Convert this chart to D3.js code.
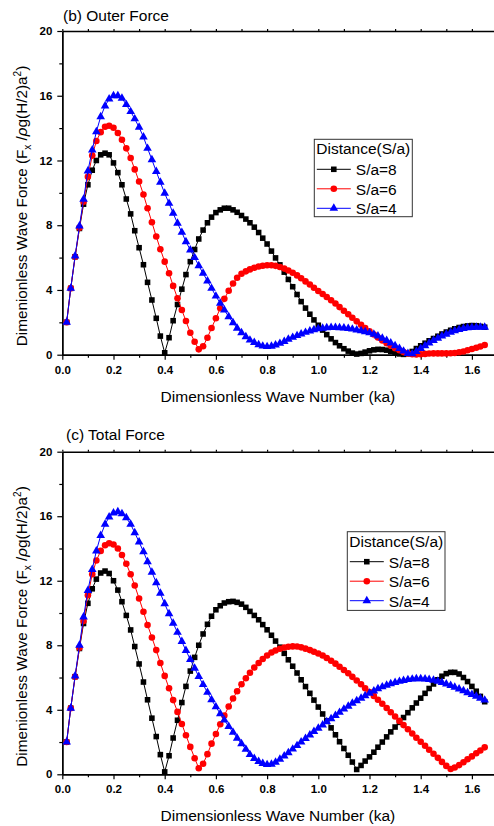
<!DOCTYPE html>
<html>
<head>
<meta charset="utf-8">
<script src="https://cdn.jsdelivr.net/npm/d3@7"></script>
<style>
  body { margin: 0; background: #fff; }
  svg { display: block; font-family: "Liberation Sans", Arial, sans-serif; }
</style>
</head>
<body>
<div id="chart"></div>
<script>
// dimensionless wave number ka (x grid of the computed points)
const ka = [0.017, 0.033, 0.05, 0.067, 0.083, 0.1, 0.117, 0.133, 0.15, 0.167,
  0.183, 0.2, 0.217, 0.233, 0.25, 0.267, 0.283, 0.3, 0.317, 0.333,
  0.35, 0.367, 0.383, 0.4, 0.417, 0.433, 0.45, 0.467, 0.483, 0.5,
  0.517, 0.533, 0.55, 0.567, 0.583, 0.6, 0.617, 0.633, 0.65, 0.667,
  0.683, 0.7, 0.717, 0.733, 0.75, 0.767, 0.783, 0.8, 0.817, 0.833,
  0.85, 0.867, 0.883, 0.9, 0.917, 0.933, 0.95, 0.967, 0.983, 1.0,
  1.017, 1.033, 1.05, 1.067, 1.083, 1.1, 1.117, 1.133, 1.15, 1.167,
  1.183, 1.2, 1.217, 1.233, 1.25, 1.267, 1.283, 1.3, 1.317, 1.333,
  1.35, 1.367, 1.383, 1.4, 1.417, 1.433, 1.45, 1.467, 1.483, 1.5,
  1.517, 1.533, 1.55, 1.567, 1.583, 1.6, 1.617, 1.633, 1.65];

// (b) Outer Force
const outerS8 = [2.0, 4.1, 6.05, 7.8, 9.3, 10.5, 11.4, 12.0, 12.35, 12.45,
  12.35, 11.85, 11.25, 10.5, 9.62, 8.7, 7.66, 6.61, 5.56, 4.47,
  3.38, 2.25, 1.15, 0.12, 1.05, 2.1, 3.1, 4.05, 4.95, 5.75,
  6.5, 7.15, 7.7, 8.15, 8.5, 8.78, 8.95, 9.05, 9.05, 8.95,
  8.8, 8.6, 8.38, 8.15, 7.88, 7.55, 7.2, 6.84, 6.4, 5.98,
  5.55, 5.1, 4.65, 4.2, 3.72, 3.28, 2.88, 2.5, 2.15, 1.82,
  1.52, 1.24, 0.98, 0.75, 0.55, 0.37, 0.22, 0.1, 0.04, 0.08,
  0.16, 0.24, 0.3, 0.33, 0.32, 0.28, 0.2, 0.12, 0.05, 0.02,
  0.06, 0.2, 0.38, 0.55, 0.71, 0.86, 1.0, 1.14, 1.28, 1.4,
  1.51, 1.6, 1.68, 1.74, 1.78, 1.8, 1.79, 1.75, 1.7];
const outerS6 = [2.0, 4.1, 6.05, 7.85, 9.45, 11.0, 12.3, 13.2, 13.75, 14.08,
  14.15, 14.02, 13.7, 13.28, 12.75, 12.15, 11.45, 10.7, 9.9, 9.05,
  8.18, 7.3, 6.52, 5.75, 5.03, 4.25, 3.49, 2.76, 2.08, 1.36,
  0.8, 0.33, 0.52, 1.05, 1.65, 2.25, 2.87, 3.45, 3.95, 4.4,
  4.75, 5.0, 5.15, 5.27, 5.37, 5.45, 5.5, 5.53, 5.53, 5.49,
  5.42, 5.32, 5.2, 5.06, 4.9, 4.72, 4.53, 4.34, 4.14, 3.94,
  3.75, 3.56, 3.36, 3.16, 2.94, 2.72, 2.5, 2.28, 2.06, 1.85,
  1.64, 1.44, 1.25, 1.06, 0.88, 0.71, 0.55, 0.4, 0.27, 0.16,
  0.08, 0.03, 0.02, 0.03, 0.05, 0.07, 0.08, 0.08, 0.08, 0.08,
  0.09, 0.11, 0.15, 0.2, 0.27, 0.35, 0.43, 0.51, 0.6];
const outerS4 = [2.0, 4.1, 6.1, 7.95, 9.6, 11.35, 12.65, 13.78, 14.7, 15.37,
  15.8, 16.0, 16.0, 15.85, 15.45, 15.02, 14.57, 14.05, 13.45, 12.75,
  12.05, 11.32, 10.65, 9.97, 9.35, 8.74, 8.12, 7.56, 6.98, 6.47,
  6.0, 5.5, 5.03, 4.55, 4.1, 3.62, 3.18, 2.76, 2.35, 1.98,
  1.63, 1.36, 1.11, 0.9, 0.75, 0.62, 0.53, 0.5, 0.52, 0.6,
  0.7, 0.82, 0.95, 1.07, 1.18, 1.28, 1.38, 1.47, 1.54, 1.6,
  1.64, 1.67, 1.68, 1.68, 1.67, 1.65, 1.62, 1.58, 1.53, 1.48,
  1.42, 1.35, 1.26, 1.15, 1.02, 0.88, 0.72, 0.55, 0.38, 0.22,
  0.08, 0.05, 0.2, 0.38, 0.55, 0.72, 0.88, 1.02, 1.15, 1.27,
  1.38, 1.48, 1.56, 1.62, 1.66, 1.68, 1.7, 1.7, 1.7];

// (c) Total Force
const totalS8 = [2.0, 4.1, 6.05, 7.8, 9.35, 10.6, 11.5, 12.1, 12.48, 12.6,
  12.45, 12.0, 11.42, 10.7, 9.85, 8.95, 7.92, 6.84, 5.72, 4.62,
  3.48, 2.34, 1.22, 0.15, 1.15, 2.25, 3.35, 4.45, 5.45, 6.4,
  7.25, 8.0, 8.7, 9.3, 9.8, 10.2, 10.45, 10.62, 10.7, 10.72,
  10.66, 10.55, 10.35, 10.1, 9.85, 9.58, 9.28, 8.96, 8.62, 8.26,
  7.88, 7.5, 7.1, 6.7, 6.28, 5.86, 5.44, 5.02, 4.6, 4.17,
  3.74, 3.31, 2.88, 2.45, 2.02, 1.6, 1.18, 0.76, 0.3, 0.55,
  0.82, 1.08, 1.37, 1.68, 2.0, 2.32, 2.63, 2.93, 3.22, 3.52,
  3.82, 4.12, 4.42, 4.72, 5.02, 5.32, 5.6, 5.86, 6.08, 6.24,
  6.32, 6.32, 6.22, 6.0, 5.75, 5.45, 5.15, 4.83, 4.5];
const totalS6 = [2.0, 4.1, 6.05, 7.85, 9.5, 11.1, 12.4, 13.25, 13.85, 14.2,
  14.32, 14.25, 14.0, 13.6, 13.05, 12.4, 11.7, 10.9, 10.08, 9.26,
  8.48, 7.7, 6.9, 6.1, 5.33, 4.6, 3.87, 3.12, 2.42, 1.7,
  1.0, 0.38, 0.65, 1.25, 1.9, 2.5, 3.1, 3.65, 4.2, 4.7,
  5.15, 5.58, 5.95, 6.3, 6.62, 6.9, 7.15, 7.37, 7.55, 7.68,
  7.78, 7.86, 7.91, 7.93, 7.92, 7.87, 7.79, 7.7, 7.6, 7.49,
  7.36, 7.21, 7.04, 6.86, 6.67, 6.47, 6.26, 6.04, 5.81, 5.58,
  5.34, 5.1, 4.86, 4.62, 4.37, 4.11, 3.85, 3.58, 3.31, 3.05,
  2.79, 2.53, 2.27, 2.02, 1.77, 1.52, 1.27, 1.02, 0.77, 0.52,
  0.33, 0.42, 0.57, 0.75, 0.93, 1.11, 1.3, 1.48, 1.67];
const totalS4 = [2.0, 4.1, 6.1, 8.0, 9.75, 11.4, 12.7, 13.85, 14.8, 15.5,
  15.95, 16.2, 16.28, 16.15, 15.9, 15.5, 14.98, 14.4, 13.8, 13.18,
  12.53, 11.88, 11.22, 10.57, 9.95, 9.37, 8.8, 8.23, 7.67, 7.12,
  6.58, 6.06, 5.56, 5.08, 4.62, 4.18, 3.76, 3.36, 2.97, 2.6,
  2.24, 1.89, 1.55, 1.22, 0.98, 0.8, 0.67, 0.6, 0.62, 0.75,
  0.93, 1.13, 1.34, 1.56, 1.78, 2.0, 2.22, 2.44, 2.65, 2.86,
  3.06, 3.26, 3.45, 3.64, 3.84, 4.04, 4.22, 4.4, 4.56, 4.72,
  4.87, 5.02, 5.16, 5.3, 5.42, 5.52, 5.61, 5.69, 5.76, 5.82,
  5.87, 5.9, 5.92, 5.92, 5.91, 5.88, 5.83, 5.77, 5.69, 5.6,
  5.5, 5.4, 5.29, 5.18, 5.06, 4.95, 4.84, 4.72, 4.6];

const seriesNames = ["S/a=8", "S/a=6", "S/a=4"];
const legendTitle = "Distance(S/a)";
const xMajor = [0, 0.2, 0.4, 0.6, 0.8, 1.0, 1.2, 1.4, 1.6];
const xMinor = [0.1, 0.3, 0.5, 0.7, 0.9, 1.1, 1.3, 1.5, 1.7];
const yMajor = [0, 4, 8, 12, 16, 20];
const yMinor = [2, 6, 10, 14, 18];

const colors = ["#000000", "#ff0000", "#0000ff"];
const shapes = [d3.symbolSquare, d3.symbolCircle, d3.symbolTriangle];
const shapeSize = [31, 34, 32];

const width = 494, height = 826;
const left = 62.3, right = 497.5;

const svg = d3.select("#chart").append("svg")
  .attr("width", width)
  .attr("height", height)
  .style("background", "#fff");

const x = d3.scaleLinear().domain([0, 1.7]).range([left, right]);

function drawPanel(cfg) {
  const y = d3.scaleLinear().domain([0, 20]).range([cfg.bottom, cfg.top]);
  const g = svg.append("g");

  // panel title
  g.append("text")
    .attr("x", cfg.titleX)
    .attr("y", cfg.titleY)
    .style("font-size", "15.5px")
    .text(cfg.title);

  // axes
  const styleAxis = (sel) => {
    sel.select(".domain").attr("stroke", "#000").attr("stroke-width", 1.4);
    sel.selectAll(".tick line").attr("stroke", "#000").attr("stroke-width", 1.2);
    sel.selectAll("text").attr("font-family", "Liberation Sans, Arial, sans-serif")
      .attr("font-size", 11.5).attr("font-weight", "bold").attr("fill", "#000");
  };

  g.append("g")
    .attr("transform", `translate(0,${cfg.bottom})`)
    .call(d3.axisBottom(x).tickValues(xMinor).tickSize(3).tickSizeOuter(0).tickFormat(""))
    .call(styleAxis);
  g.append("g")
    .attr("transform", `translate(0,${cfg.bottom})`)
    .call(d3.axisBottom(x).tickValues(xMajor).tickSize(5).tickPadding(6).tickSizeOuter(0)
      .tickFormat(d3.format(".1f")))
    .call(styleAxis);

  g.append("g")
    .attr("transform", `translate(0,${cfg.top})`)
    .call(d3.axisTop(x).tickValues(xMajor.concat(xMinor)).tickSize(2).tickSizeOuter(0).tickFormat(""))
    .call(styleAxis);

  g.append("g")
    .attr("transform", `translate(${left},0)`)
    .call(d3.axisLeft(y).tickValues(yMinor).tickSize(3).tickSizeOuter(0).tickFormat(""))
    .call(styleAxis);
  g.append("g")
    .attr("transform", `translate(${left},0)`)
    .call(d3.axisLeft(y).tickValues(yMajor).tickSize(5).tickPadding(5).tickSizeOuter(0))
    .call(styleAxis);

  // axis titles
  g.append("text")
    .attr("x", (left + right) / 2 - 2)
    .attr("y", cfg.bottom + 47)
    .attr("text-anchor", "middle")
    .style("font-size", "15.5px")
    .text("Dimensionless Wave Number (ka)");

  const yt = g.append("text")
    .attr("transform", `translate(26.5,${cfg.yTitleMid}) rotate(-90)`)
    .attr("text-anchor", "middle")
    .style("font-size", "15.3px");
  yt.append("tspan").text("Dimenionless Wave Force (F");
  yt.append("tspan").attr("dy", 4).style("font-size", "10px").text("x");
  yt.append("tspan").attr("dy", -4).text(" /");
  yt.append("tspan").style("font-style", "italic").text("\u03c1");
  yt.append("tspan").text("g(H/2)a");
  yt.append("tspan").attr("dy", -6).style("font-size", "10px").text("2");
  yt.append("tspan").attr("dy", 6).text(")");

  // series
  const line = d3.line()
    .x((d) => x(d[0]))
    .y((d) => y(d[1]));

  cfg.values.forEach((vals, s) => {
    const pts = ka.map((k, i) => [k, vals[i]]);
    g.append("path")
      .datum(pts)
      .attr("d", line)
      .attr("fill", "none")
      .attr("stroke", colors[s])
      .attr("stroke-width", 1);
    g.selectAll(".m" + s)
      .data(pts)
      .enter()
      .append("path")
      .attr("class", "m" + s)
      .attr("transform", (d) => `translate(${x(d[0])},${y(d[1])})`)
      .attr("d", d3.symbol().type(shapes[s]).size(shapeSize[s]))
      .attr("fill", colors[s]);
  });

  // legend
  const lg = g.append("g").attr("transform", `translate(${cfg.legendX},${cfg.legendY})`);
  lg.append("rect")
    .attr("width", cfg.legendW)
    .attr("height", cfg.legendH)
    .attr("fill", "#fff")
    .attr("stroke", "#333")
    .attr("stroke-width", 1);
  lg.append("text")
    .attr("x", 2)
    .attr("y", 15)
    .style("font-size", "15.5px")
    .text(legendTitle);
  seriesNames.forEach((name, s) => {
    const ly = 30 + s * 19.5;
    lg.append("line")
      .attr("x1", 2.5).attr("x2", 36.5)
      .attr("y1", ly).attr("y2", ly)
      .attr("stroke", colors[s])
      .attr("stroke-width", 1);
    lg.append("path")
      .attr("transform", `translate(19.5,${ly})`)
      .attr("d", d3.symbol().type(shapes[s]).size(shapeSize[s]))
      .attr("fill", colors[s]);
    lg.append("text")
      .attr("x", 41.5)
      .attr("y", ly + 6)
      .style("font-size", "15.5px")
      .text(name);
  });
}

drawPanel({
  title: "(b) Outer Force", titleX: 63, titleY: 20.5,
  top: 31, bottom: 354.7, yTitleMid: 206,
  values: [outerS8, outerS6, outerS4],
  legendX: 314.3, legendY: 139.3, legendW: 98, legendH: 77.4
});

drawPanel({
  title: "(c) Total Force", titleX: 66, titleY: 440,
  top: 451.7, bottom: 774.3, yTitleMid: 626.5,
  values: [totalS8, totalS6, totalS4],
  legendX: 347.3, legendY: 531.7, legendW: 97.7, legendH: 78.7
});
</script>
</body>
</html>
